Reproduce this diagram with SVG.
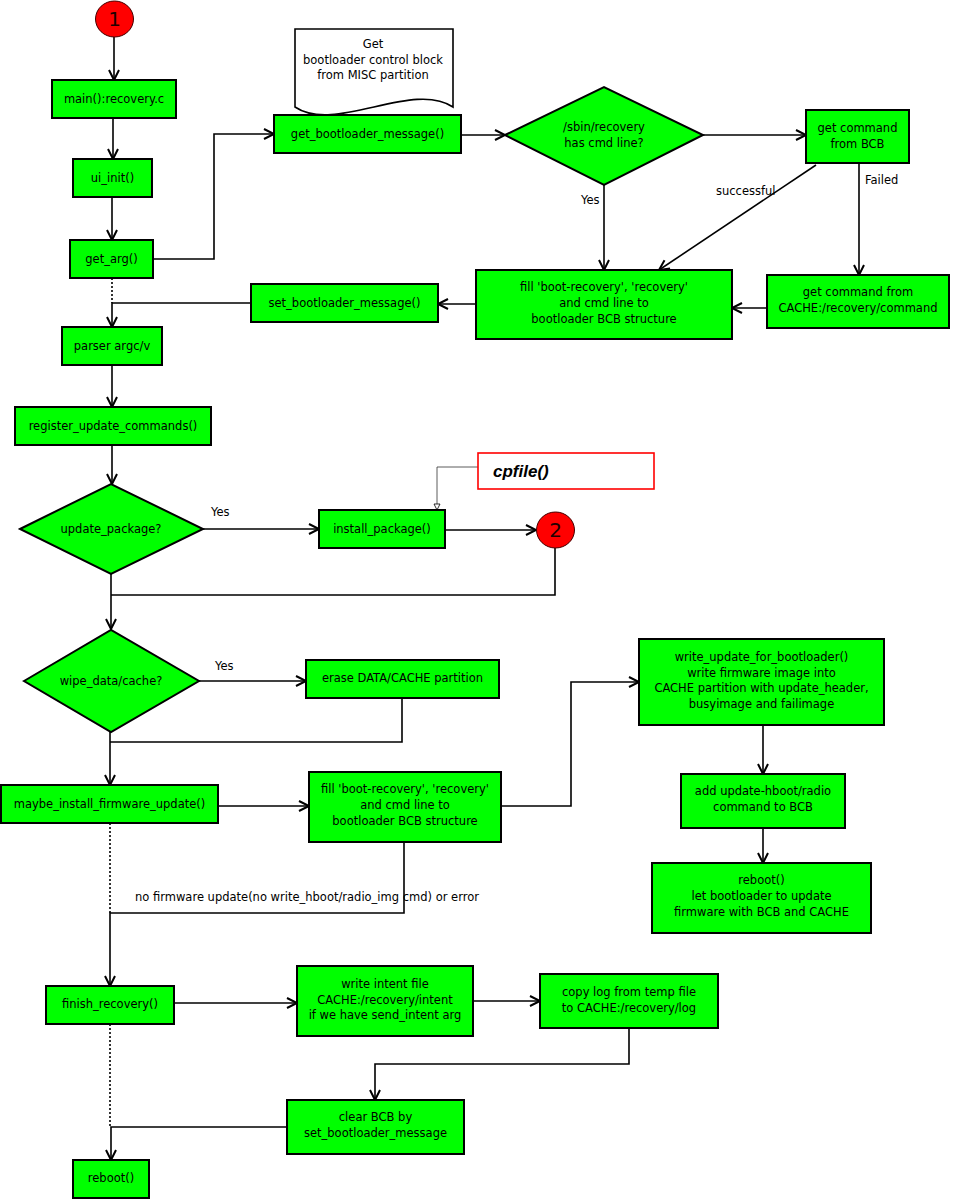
<svg xmlns="http://www.w3.org/2000/svg" width="953" height="1200" viewBox="0 0 953 1200">
<style>
.box{fill:#00ff00;stroke:#000;stroke-width:2}
.t{font-family:"DejaVu Sans",sans-serif;font-size:11.5px;fill:#000;text-anchor:middle}
.l{font-family:"DejaVu Sans",sans-serif;font-size:11.5px;fill:#000}
.c{fill:none;stroke:#000;stroke-width:1.6}
.a{marker-end:url(#arr)}
.d{fill:none;stroke:#000;stroke-width:1.6;stroke-dasharray:2,2}
.circ{fill:#ff0000;stroke:#400;stroke-width:1}
.num{font-family:"DejaVu Sans",sans-serif;font-size:20px;fill:#200;text-anchor:middle}
</style>
<defs>
<marker id="arr" markerUnits="userSpaceOnUse" markerWidth="14" markerHeight="14" refX="11" refY="6" orient="auto" viewBox="0 0 14 12">
<path d="M1,1 L11,6 L1,11" fill="none" stroke="#000" stroke-width="2"/>
</marker>
<marker id="tri" markerUnits="userSpaceOnUse" markerWidth="10" markerHeight="10" refX="7" refY="4" orient="auto" viewBox="0 0 10 8">
<path d="M1,1 L7,4 L1,7 Z" fill="#fff" stroke="#000" stroke-width="0.8"/>
</marker>
</defs>
<rect width="953" height="1200" fill="#fff"/>

<g id="connectors">
<path class="c a" d="M114,37 V80"/>
<path class="c a" d="M113,118 V159"/>
<path class="c a" d="M112,197 V240"/>
<path class="c a" d="M153,259 H214 V134 H274"/>
<path class="d" d="M112,278 V303"/>
<path class="c a" d="M251,303 H112 V327"/>
<path class="c a" d="M461,135 H505"/>
<path class="c a" d="M703,135 H806"/>
<path class="c a" d="M604,185 V270"/>
<path class="c a" d="M816,165 L659,270"/>
<path class="c a" d="M859,163 V275"/>
<path class="c a" d="M767,308 H732"/>
<path class="c a" d="M476,304 H438"/>
<path class="c a" d="M112,365 V407"/>
<path class="c a" d="M112,445 V484"/>
<path class="c a" d="M203,529 H319"/>
<path class="c a" d="M445,530 H536"/>
<path class="c" d="M555,548 V595 H111"/>
<path class="c a" d="M111,574 V629"/>
<path class="c a" d="M199,681 H306"/>
<path class="c" d="M402,698 V742 H110"/>
<path class="c a" d="M110,732 V785" stroke-width="2.6"/>
<path class="c a" d="M218,806 H309"/>
<path class="c a" d="M501,806 H571 V682 H639"/>
<path class="c a" d="M404,842 V913 H110 V986"/>
<path class="d" d="M110,823 V913"/>
<path class="c a" d="M763,725 V774"/>
<path class="c a" d="M763,828 V863"/>
<path class="c a" d="M174,1003 H297"/>
<path class="c a" d="M473,1001 H540"/>
<path class="c a" d="M629,1028 V1064 H375 V1100"/>
<path class="c a" d="M287,1127 H111 V1160"/>
<path class="d" d="M110,1024 V1127"/>
<path d="M478,467 H437 V510" fill="none" stroke="#333" stroke-width="0.8" marker-end="url(#tri)"/>
</g>

<g id="labels">
<text class="l" x="581" y="204">Yes</text>
<text class="l" x="716" y="195">successful</text>
<text class="l" x="865" y="184">Failed</text>
<text class="l" x="211" y="516">Yes</text>
<text class="l" x="215" y="670">Yes</text>
<text class="l" x="135" y="901">no firmware update(no write_hboot/radio_img cmd) or error</text>
</g>

<g id="start1"><ellipse class="circ" cx="114.5" cy="19" rx="19" ry="18"/><text class="num" x="114.5" y="26">1</text></g>
<g id="main"><rect class="box" x="52" y="80" width="124" height="38"/><text class="t" x="114" y="103">main():recovery.c</text></g>
<g id="ui_init"><rect class="box" x="73" y="159" width="79" height="38"/><text class="t" x="112.5" y="182">ui_init()</text></g>
<g id="get_arg"><rect class="box" x="70" y="240" width="83" height="38"/><text class="t" x="111.5" y="263">get_arg()</text></g>
<g id="note"><path d="M295,29 H453 V107 C413,80 335,134 295,107 Z" fill="#fff" stroke="#000" stroke-width="1.6"/>
<text class="t" x="373" y="48">Get</text><text class="t" x="373" y="64">bootloader control block</text><text class="t" x="373" y="79">from MISC partition</text></g>
<g id="get_bootloader_message"><rect class="box" x="274" y="115" width="187" height="38"/><text class="t" x="367.5" y="138">get_bootloader_message()</text></g>
<g id="has_cmd"><polygon class="box" points="505,135 604,87 703,135 604,185"/><text class="t" x="604" y="131">/sbin/recovery</text><text class="t" x="604" y="147">has cmd line?</text></g>
<g id="cmd_bcb"><rect class="box" x="806" y="110" width="103" height="53"/><text class="t" x="857.5" y="132">get command</text><text class="t" x="857.5" y="148">from BCB</text></g>
<g id="fill1"><rect class="box" x="476" y="270" width="256" height="69"/><text class="t" x="604" y="291">fill 'boot-recovery', 'recovery'</text><text class="t" x="604" y="307">and cmd line to</text><text class="t" x="604" y="323">bootloader BCB structure</text></g>
<g id="cmd_cache"><rect class="box" x="767" y="275" width="182" height="53"/><text class="t" x="858" y="296">get command from</text><text class="t" x="858" y="312">CACHE:/recovery/command</text></g>
<g id="set_bootloader_message"><rect class="box" x="251" y="284" width="187" height="38"/><text class="t" x="344.5" y="307">set_bootloader_message()</text></g>
<g id="parser"><rect class="box" x="62" y="327" width="100" height="38"/><text class="t" x="112" y="350">parser argc/v</text></g>
<g id="register"><rect class="box" x="15" y="407" width="196" height="38"/><text class="t" x="113" y="430">register_update_commands()</text></g>
<g id="update_package"><polygon class="box" points="20,529 111,484 203,529 111,574"/><text class="t" x="111" y="533">update_package?</text></g>
<g id="install_package"><rect class="box" x="319" y="510" width="126" height="38"/><text class="t" x="382" y="533">install_package()</text></g>
<g id="cpfile"><rect x="478" y="453" width="176" height="36" fill="#fff" stroke="#ff0000" stroke-width="1.6"/><text x="493" y="477" font-family="Liberation Sans, sans-serif" font-size="17" font-weight="bold" font-style="italic">cpfile()</text></g>
<g id="start2"><ellipse class="circ" cx="555.5" cy="530" rx="19" ry="18"/><text class="num" x="555.5" y="537">2</text></g>
<g id="wipe"><polygon class="box" points="24,681 111,630 199,681 111,732"/><text class="t" x="111" y="685">wipe_data/cache?</text></g>
<g id="erase"><rect class="box" x="306" y="660" width="193" height="38"/><text class="t" x="402.5" y="682">erase DATA/CACHE partition</text></g>
<g id="maybe"><rect class="box" x="1" y="785" width="217" height="38"/><text class="t" x="109.5" y="808">maybe_install_firmware_update()</text></g>
<g id="fill2"><rect class="box" x="309" y="772" width="192" height="70"/><text class="t" x="405" y="793">fill 'boot-recovery', 'recovery'</text><text class="t" x="405" y="809">and cmd line to</text><text class="t" x="405" y="825">bootloader BCB structure</text></g>
<g id="write_update"><rect class="box" x="639" y="639" width="245" height="86"/><text class="t" x="761.5" y="661">write_update_for_bootloader()</text><text class="t" x="761.5" y="677">write firmware image into</text><text class="t" x="761.5" y="692">CACHE partition with update_header,</text><text class="t" x="761.5" y="708">busyimage and failimage</text></g>
<g id="add_cmd"><rect class="box" x="681" y="774" width="164" height="54"/><text class="t" x="763" y="795">add update-hboot/radio</text><text class="t" x="763" y="811">command to BCB</text></g>
<g id="reboot_fw"><rect class="box" x="652" y="863" width="219" height="70"/><text class="t" x="761.5" y="884">reboot()</text><text class="t" x="761.5" y="900">let bootloader to update</text><text class="t" x="761.5" y="916">firmware with BCB and CACHE</text></g>
<g id="finish"><rect class="box" x="46" y="986" width="128" height="38"/><text class="t" x="110" y="1008">finish_recovery()</text></g>
<g id="write_intent"><rect class="box" x="297" y="966" width="176" height="70"/><text class="t" x="385" y="988">write intent file</text><text class="t" x="385" y="1004">CACHE:/recovery/intent</text><text class="t" x="385" y="1019">if we have send_intent arg</text></g>
<g id="copy_log"><rect class="box" x="540" y="974" width="178" height="54"/><text class="t" x="629" y="996">copy log from temp file</text><text class="t" x="629" y="1012">to CACHE:/recovery/log</text></g>
<g id="clear_bcb"><rect class="box" x="287" y="1100" width="177" height="54"/><text class="t" x="375.5" y="1121">clear BCB by</text><text class="t" x="375.5" y="1137">set_bootloader_message</text></g>
<g id="reboot"><rect class="box" x="73" y="1160" width="76" height="38"/><text class="t" x="111" y="1182">reboot()</text></g>
</svg>
